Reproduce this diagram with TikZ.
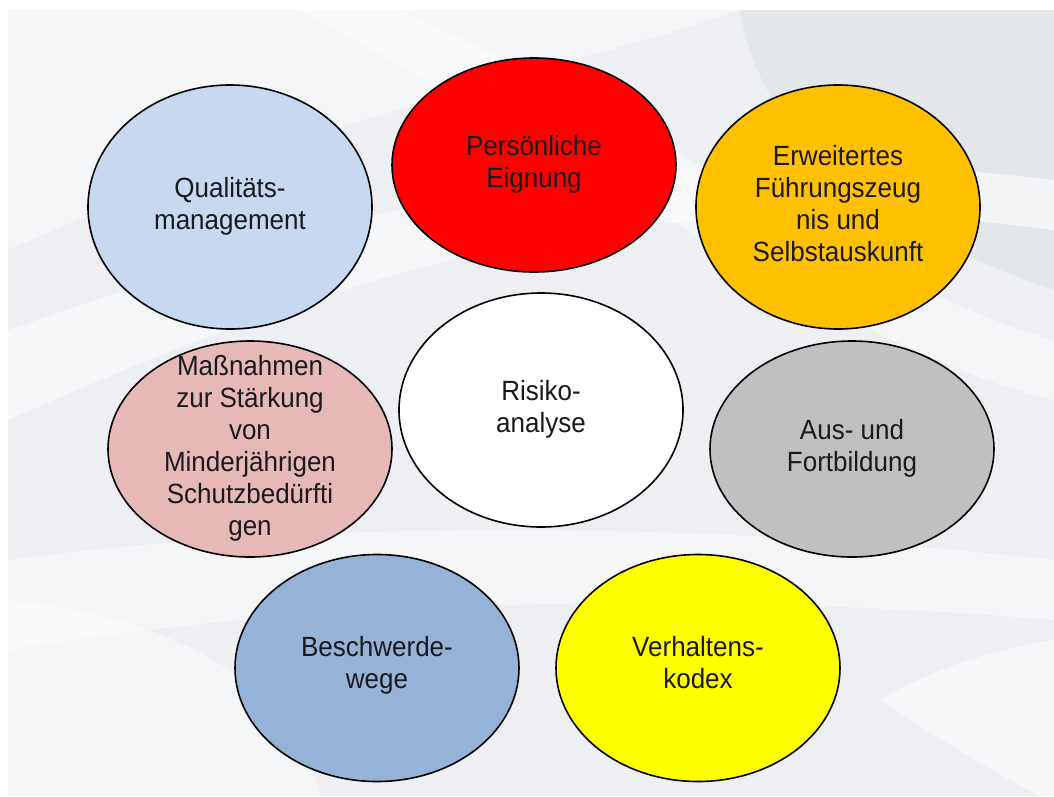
\documentclass[tikz,border=0pt]{standalone}
\usepackage{fontspec}
\setmainfont{Liberation Sans}
\usetikzlibrary{shapes.geometric}
\definecolor{bgbase}{HTML}{EDEFF2}
\definecolor{bgdark}{HTML}{DADEE2}
\definecolor{qmblue}{HTML}{C6D9F1}
\definecolor{pered}{HTML}{FF0000}
\definecolor{egold}{HTML}{FFC000}
\definecolor{mpink}{HTML}{E6B9B8}
\definecolor{agray}{HTML}{C0C0C0}
\definecolor{bblue}{HTML}{95B3D7}
\definecolor{vyellow}{HTML}{FFFF00}
\definecolor{txt}{HTML}{1A1A1E}
\newcommand{\tallt}[1]{\scalebox{1}[1.07]{\renewcommand{\arraystretch}{1}\begin{tabular}{@{}c@{}}#1\end{tabular}}}
\tikzset{
  blob/.style={ellipse, draw=black, line width=1.6pt, inner sep=0pt, minimum width=284pt},
  lbl/.style={font=\fontsize{26}{30}\selectfont, align=center, text=txt, inner sep=0pt}
}
\begin{document}
\begin{tikzpicture}[x=1pt,y=-1pt]
\useasboundingbox (0,0) rectangle (1054,796);
\fill[white] (0,0) rectangle (1054,796);
\fill[bgbase] (8,10) rectangle (1054,796);
\begin{scope}
\clip (8,10) rectangle (1054,796);
% top-left lighter area
\fill[white, opacity=0.45] (8,10) -- (740,10) .. controls (600,60) and (300,120) .. (8,250) -- cycle;
% top-right gray wedge
\fill[bgdark, opacity=0.45] (740,10) .. controls (760,140) and (880,230) .. (1054,290) -- (1054,10) -- cycle;
% diagonal white bands
\fill[white, opacity=0.55] (8,330) .. controls (250,250) and (550,120) .. (1054,180) -- (1054,230) .. controls (600,170) and (280,300) .. (8,420) -- cycle;
\fill[white, opacity=0.45] (400,10) .. controls (700,150) and (900,300) .. (1054,340) -- (1054,400) .. controls (880,360) and (650,200) .. (300,10) -- cycle;
\fill[white, opacity=0.45] (8,560) .. controls (300,520) and (700,520) .. (1054,560) -- (1054,620) .. controls (700,590) and (300,600) .. (8,650) -- cycle;
% lower-left light area
\fill[white, opacity=0.45] (8,600) .. controls (200,620) and (300,700) .. (320,796) -- (8,796) -- cycle;
% bottom-right light swoosh
\fill[white, opacity=0.5] (880,700) .. controls (940,740) and (990,770) .. (1040,796) -- (1054,796) -- (1054,640) .. controls (990,650) and (930,670) .. (880,700) -- cycle;
\end{scope}

% ellipses
\node[blob, fill=qmblue, minimum height=244pt] (qm) at (230,207) {};
\node[blob, fill=pered, minimum height=214pt] (pe) at (534,165) {};
\node[blob, fill=egold, minimum height=244pt] (ef) at (838,207) {};
\node[blob, fill=white, minimum height=234pt] (ra) at (541,410) {};
\node[blob, fill=mpink, minimum height=216pt] (ms) at (250,449) {};
\node[blob, fill=agray, minimum height=216pt] (af) at (852,449) {};
\node[blob, fill=bblue, minimum height=227pt] (bw) at (377,668) {};
\node[blob, fill=vyellow, minimum height=227pt] (vk) at (698,668) {};

% labels
\node[lbl] (qmt) at (qm.center) {\tallt{Qualitäts-\\management}};
\node[lbl] (pet) at (pe.center) {\tallt{Persönliche\\Eignung}};
\node[lbl] (eft) at (ef.center) {\tallt{Erweitertes\\Führungszeug\\nis und\\Selbstauskunft}};
\node[lbl] (rat) at (ra.center) {\tallt{Risiko-\\analyse}};
\node[lbl] (mst) at (ms.center) {\tallt{Maßnahmen\\zur Stärkung\\von\\Minderjährigen\\Schutzbedürfti\\gen}};
\node[lbl] (aft) at (af.center) {\tallt{Aus- und\\Fortbildung}};
\node[lbl] (bwt) at ([yshift=2pt]bw.center) {\tallt{Beschwerde-\\wege}};
\node[lbl] (vkt) at ([yshift=2pt]vk.center) {\tallt{Verhaltens-\\kodex}};
\end{tikzpicture}
\end{document}
